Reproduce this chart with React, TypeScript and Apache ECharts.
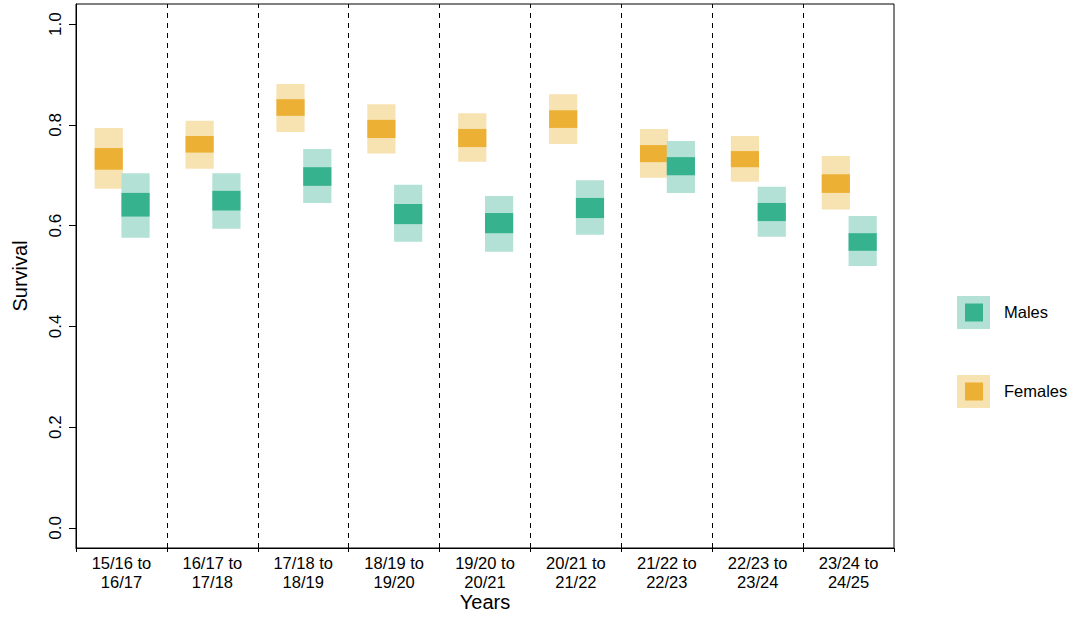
import React, { useEffect, useRef } from "react";
import * as echarts from "echarts";

const categories = [
  "15/16 to\n16/17", "16/17 to\n17/18", "17/18 to\n18/19", "18/19 to\n19/20", "19/20 to\n20/21",
  "20/21 to\n21/22", "21/22 to\n22/23", "22/23 to\n23/24", "23/24 to\n24/25",
];
const femaleLo95 = [0.673, 0.713, 0.786, 0.743, 0.727, 0.762, 0.695, 0.687, 0.632];
const femaleLo50 = [0.711, 0.745, 0.818, 0.774, 0.756, 0.794, 0.726, 0.716, 0.665];
const femaleHi50 = [0.754, 0.778, 0.851, 0.810, 0.792, 0.829, 0.760, 0.748, 0.702];
const femaleHi95 = [0.794, 0.808, 0.881, 0.841, 0.823, 0.861, 0.792, 0.778, 0.738];
const maleLo95 = [0.576, 0.594, 0.645, 0.568, 0.548, 0.582, 0.665, 0.578, 0.520];
const maleLo50 = [0.618, 0.630, 0.679, 0.603, 0.585, 0.615, 0.700, 0.609, 0.550];
const maleHi50 = [0.665, 0.669, 0.716, 0.643, 0.625, 0.655, 0.736, 0.645, 0.585];
const maleHi95 = [0.704, 0.704, 0.752, 0.681, 0.659, 0.690, 0.768, 0.677, 0.619];
const yTicks = [0, 0.2, 0.4, 0.6, 0.8, 1.0];
const legendLabels = ["Males", "Females"];

const FONT = "Liberation Sans, Arial, Helvetica, sans-serif";
const COLORS = {
  femaleDark: "#ECB035",
  femaleLight: "#F7E2B2",
  maleDark: "#36B28F",
  maleLight: "#B3E1D5",
};

function makeRender(start: number, end: number, light: string, dark: string) {
  return (params: any, api: any) => {
    const i = api.value(0);
    const lo95 = api.value(1);
    const lo50 = api.value(2);
    const hi50 = api.value(3);
    const hi95 = api.value(4);
    const pA = api.coord([i + start, hi95]);
    const pB = api.coord([i + end, lo95]);
    const qA = api.coord([i + start, hi50]);
    const qB = api.coord([i + end, lo50]);
    return {
      type: "group",
      children: [
        {
          type: "rect",
          shape: { x: pA[0], y: pA[1], width: pB[0] - pA[0], height: pB[1] - pA[1] },
          style: { fill: light },
        },
        {
          type: "rect",
          shape: { x: qA[0], y: qA[1], width: qB[0] - qA[0], height: qB[1] - qA[1] },
          style: { fill: dark },
        },
      ],
    };
  };
}

export default function App() {
  const ref = useRef<HTMLDivElement>(null);
  useEffect(() => {
    document.body.style.margin = "0";
    const chart = echarts.init(ref.current!, null, { renderer: "svg" });
    const femaleData = categories.map((_, i) => [i, femaleLo95[i], femaleLo50[i], femaleHi50[i], femaleHi95[i]]);
    const maleData = categories.map((_, i) => [i, maleLo95[i], maleLo50[i], maleHi50[i], maleHi95[i]]);
    const boundaries = categories.slice(1).map((_, i) => ({ xAxis: i + 1 }));
    const xTickVals = [...categories.map((_, i) => i), categories.length];
    const xLabelVals = categories.map((_, i) => i + 0.5);

    const legendItems: any[] = [];
    const legendColors = [
      [COLORS.maleLight, COLORS.maleDark],
      [COLORS.femaleLight, COLORS.femaleDark],
    ];
    const legendY = [296, 375];
    legendLabels.forEach((lab, k) => {
      legendItems.push({
        type: "rect",
        shape: { x: 957, y: legendY[k], width: 33, height: 33 },
        style: { fill: legendColors[k][0] },
      });
      legendItems.push({
        type: "rect",
        shape: { x: 965, y: legendY[k] + 7.5, width: 18, height: 18 },
        style: { fill: legendColors[k][1] },
      });
      legendItems.push({
        type: "text",
        x: 1004,
        y: legendY[k] + 16,
        style: { text: lab, fill: "#000", font: `16.5px ${FONT}`, textVerticalAlign: "middle" },
      });
    });

    chart.setOption({
      animation: false,
      backgroundColor: "#fff",
      textStyle: { fontFamily: FONT },
      grid: {
        left: 76, top: 4, width: 818, height: 544,
        outerBoundsMode: "none",
        containLabel: false,
        show: true, borderColor: "#000", borderWidth: 1, backgroundColor: "transparent",
      },
      xAxis: {
        type: "value",
        min: 0,
        max: categories.length,
        name: "Years",
        nameLocation: "middle",
        nameGap: 44,
        nameMoveOverlap: false,
        nameTextStyle: { fontSize: 20, color: "#000", fontFamily: FONT },
        axisLine: { show: true, onZero: false, lineStyle: { color: "#000", width: 1 } },
        axisTick: { show: true, length: 4, lineStyle: { color: "#000" }, customValues: xTickVals },
        axisLabel: {
          customValues: xLabelVals,
          formatter: (v: number) => categories[Math.floor(v)] ?? "",
          fontSize: 16.5,
          lineHeight: 19,
          color: "#000",
          margin: 5,
          fontFamily: FONT,
        },
        splitLine: { show: false },
      },
      yAxis: {
        type: "value",
        min: -0.04,
        max: 1.04,
        name: "Survival",
        nameLocation: "middle",
        nameRotate: 90,
        nameGap: 46,
        nameTextStyle: { fontSize: 20, color: "#000", fontFamily: FONT },
        axisLine: { show: true, onZero: false, lineStyle: { color: "#000", width: 1 } },
        axisTick: { show: true, length: 7, lineStyle: { color: "#000" }, customValues: yTicks },
        axisLabel: {
          customValues: yTicks,
          formatter: (v: number) => v.toFixed(1),
          rotate: 90,
          align: "center",
          verticalAlign: "bottom",
          fontSize: 17,
          color: "#000",
          margin: 12,
          fontFamily: FONT,
        },
        splitLine: { show: false },
      },
      graphic: legendItems,
      series: [
        {
          type: "custom",
          name: "Females",
          renderItem: makeRender(0.205, 0.515, COLORS.femaleLight, COLORS.femaleDark),
          data: femaleData,
          encode: { x: 0, y: [1, 4] },
          markLine: {
            silent: true,
            symbol: "none",
            label: { show: false },
            lineStyle: { color: "#000", type: [5, 5], width: 1 },
            data: boundaries,
          },
        },
        {
          type: "custom",
          name: "Males",
          renderItem: makeRender(0.5, 0.81, COLORS.maleLight, COLORS.maleDark),
          data: maleData,
          encode: { x: 0, y: [1, 4] },
        },
      ],
    });
    return () => chart.dispose();
  }, []);
  return <div ref={ref} style={{ width: 1075, height: 617 }} />;
}
